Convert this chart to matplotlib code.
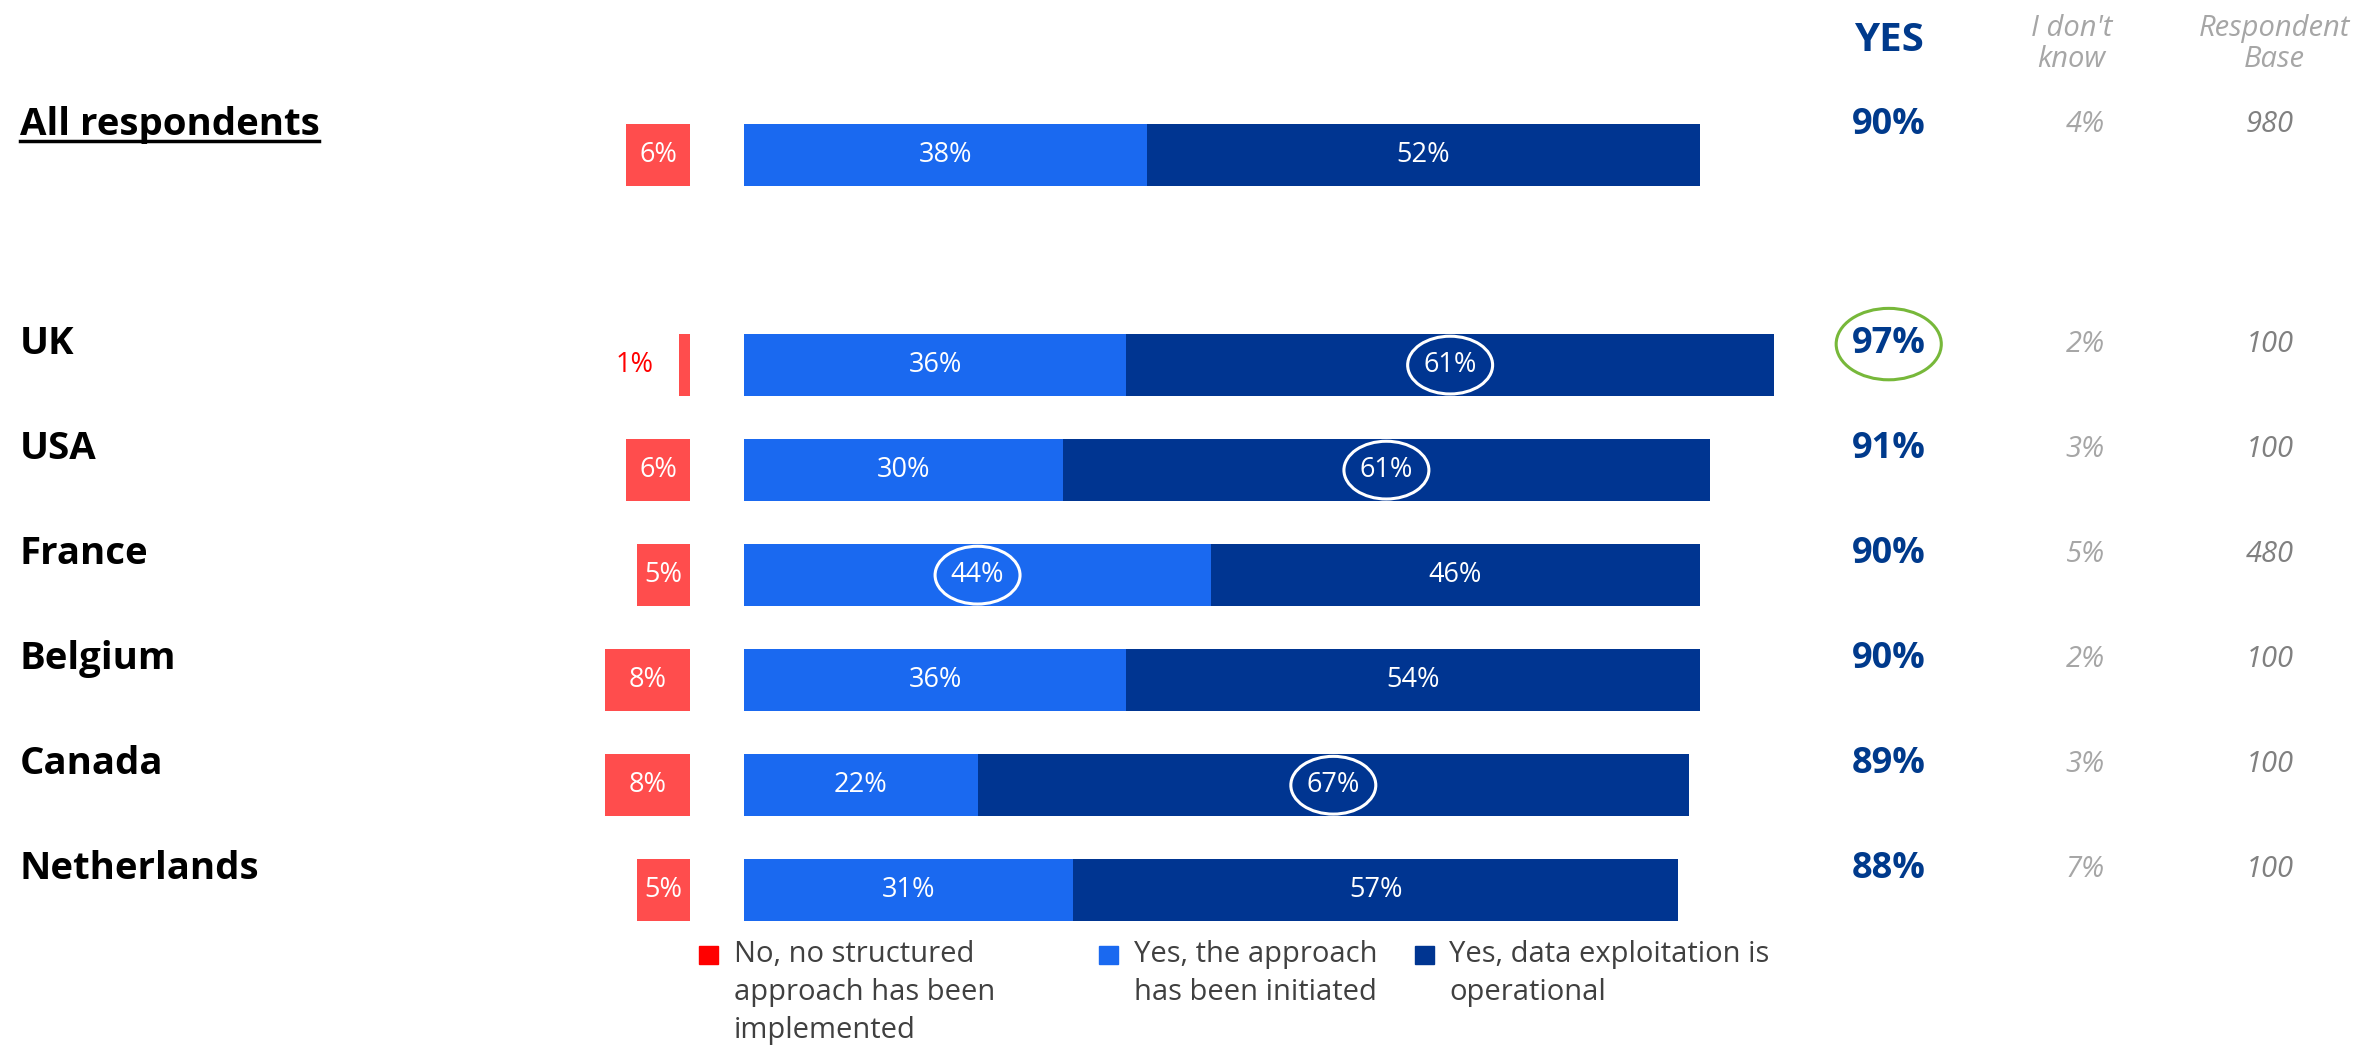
import matplotlib
matplotlib.use("Agg")
import matplotlib.pyplot as plt
from matplotlib.patches import Ellipse, Rectangle
from matplotlib.lines import Line2D

categories = ["All respondents", "UK", "USA", "France", "Belgium", "Canada", "Netherlands"]
no_approach = [6, 1, 6, 5, 8, 8, 5]
initiated = [38, 36, 30, 44, 36, 22, 31]
operational = [52, 61, 61, 46, 54, 67, 57]
yes_total = [90, 97, 91, 90, 90, 89, 88]
dont_know = [4, 2, 3, 5, 2, 3, 7]
resp_base = [980, 100, 100, 480, 100, 100, 100]
circle_initiated = ["France"]
circle_operational = ["UK", "USA", "Canada"]
circle_yes = ["UK"]

legend_labels = ["No, no structured\napproach has been\nimplemented",
                 "Yes, the approach\nhas been initiated",
                 "Yes, data exploitation is\noperational"]

RED = "#FF4D4D"
RED_KEY = "#FF0000"
BLUE = "#1A69F0"
NAVY = "#003591"
YES_C = "#003A8C"
GREY = "#A6A6A6"
GREY2 = "#808080"

W, H = 2356, 1052
fig = plt.figure(figsize=(W / 100, H / 100), dpi=100)
ax = fig.add_axes([0, 0, 1, 1])
ax.set_xlim(-70.05, 151.8)
ax.set_ylim(8.54, -1.476)
ax.axis("off")

ypos = [0, 2, 3, 4, 5, 6, 7]
bh = 0.59
gap = 5.08
x_yes, x_idk, x_base = 107.8, 126.3, 143.7
x_lab = -68.2

# red "no" bars sit left of the gap, blue stacks start at 0
red_left = [-gap - v for v in no_approach]
ax.barh(ypos, no_approach, left=red_left, height=bh, color=RED)
ax.barh(ypos, initiated, height=bh, color=BLUE)
ax.barh(ypos, operational, left=initiated, height=bh, color=NAVY)

bar_font = dict(family="Open Sans", fontsize=19.5)
for i, c in enumerate(categories):
    y = ypos[i]
    if no_approach[i] >= 3:
        ax.text(red_left[i] + no_approach[i] / 2, y, f"{no_approach[i]}%", ha="center", va="center",
                color="white", **bar_font)
    else:
        ax.text(red_left[i] - 2.4, y, f"{no_approach[i]}%", ha="right", va="center", color=RED_KEY,
                **bar_font)
    xi = initiated[i] / 2
    xo = initiated[i] + operational[i] / 2
    ax.text(xi, y, f"{initiated[i]}%", ha="center", va="center", color="white", **bar_font)
    ax.text(xo, y, f"{operational[i]}%", ha="center", va="center", color="white", **bar_font)
    if c in circle_initiated:
        ax.add_patch(Ellipse((xi, y), 8.0, 0.55, fill=False, ec="white", lw=2.2))
    if c in circle_operational:
        ax.add_patch(Ellipse((xo, y), 8.0, 0.55, fill=False, ec="white", lw=2.2))

    dy = -0.29 if i == 0 else -0.2
    t = ax.text(x_lab, y + dy, c, ha="left", va="center", family="Open Sans", fontweight="bold",
                fontsize=27.6, color="black")
    if i == 0:
        lab_all = t
    ax.text(x_yes, y + dy, f"{yes_total[i]}%", ha="center", va="center", family="Open Sans",
            fontweight="bold", fontsize=26, color=YES_C)
    ax.text(x_idk, y + dy, f"{dont_know[i]}%", ha="center", va="center", family="Open Sans",
            style="italic", fontsize=21, color=GREY)
    ax.text(x_base, y + dy, f"{resp_base[i]}", ha="center", va="center", family="Open Sans",
            style="italic", fontsize=21, color=GREY2)
    if c in circle_yes:
        ax.add_patch(Ellipse((x_yes, y + dy), 9.9, 0.68, fill=False, ec="#77B83A", lw=2.2))

# column headers
ax.text(x_yes, -1.095, "YES", ha="center", va="center", family="Open Sans", fontweight="bold",
        fontsize=29, color=YES_C)
ax.text(x_idk - 1.3, -1.06, "I don't\nknow", ha="center", va="center", family="Open Sans",
        style="italic", fontsize=21, color=GREY, linespacing=1.1)
ax.text(x_base + 0.4, -1.06, "Respondent\nBase", ha="center", va="center", family="Open Sans",
        style="italic", fontsize=21, color=GREY, linespacing=1.1)

# underline for the total row label
fig.canvas.draw()
bb = lab_all.get_window_extent()
fig.add_artist(Line2D([bb.x0, bb.x1], [H - 141, H - 141], transform=None, color="black", lw=2.5))

# legend drawn by hand in pixel positions
leg_cols = [RED_KEY, BLUE, NAVY]
sq_x = [699, 1099, 1415]
tx_x = [734, 1134, 1449]
for col, sx, tx, lab in zip(leg_cols, sq_x, tx_x, legend_labels):
    fig.add_artist(Rectangle((sx / W, 1 - 964 / H), 19 / W, 18 / H, transform=fig.transFigure,
                             color=col))
    fig.text(tx / W, 1 - 940 / H, lab, ha="left", va="top", family="Open Sans",
             fontsize=21, color="#404040", linespacing=1.4)

fig.savefig("out.png", dpi=100)
